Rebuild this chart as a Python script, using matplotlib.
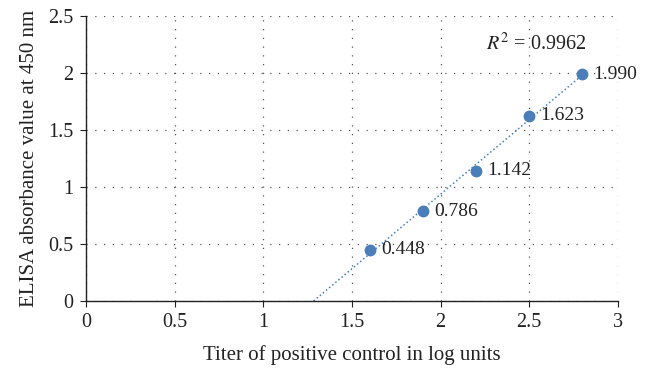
import numpy as np
import matplotlib.pyplot as plt

# Data
titer = [1.6, 1.9, 2.2, 2.5, 2.8]
absorbance = [0.448, 0.786, 1.142, 1.623, 1.990]
labels = ['0.448', '0.786', '1.142', '1.623', '1.990']
r2_text = r'$R^2$ = 0.9962'

plt.rcParams['font.family'] = ['Liberation Serif', 'DejaVu Serif']
plt.rcParams['mathtext.fontset'] = 'stix'

fig = plt.figure(figsize=(6.53, 3.72), dpi=100)
ax = fig.add_axes([0.132, 0.191, 0.814, 0.766])

farge = '#4a7ebb'
tekst = '#222222'

# Trendlinje (lineaer tilpassing), fra y=0 til siste punkt
k, m = np.polyfit(titer, absorbance, 1)
x0 = -m / k
xt = np.array([x0, titer[-1]])
ax.plot(xt, k * xt + m, ':', color=farge, lw=1.1, zorder=2)

ax.plot(titer, absorbance, 'o', color=farge, ms=7.5, zorder=3)
for xi, yi, t in zip(titer, absorbance, labels):
    ax.annotate(t, (xi, yi), xytext=(8, 0), textcoords='offset points',
                va='center', ha='left', fontsize=14, color=tekst)

ax.text(2.256, 2.25, r2_text, fontsize=14.5, color=tekst, va='center')

ax.set_xlim(0, 3)
ax.set_ylim(0, 2.5)
ax.set_xticks(np.arange(0, 3.01, 0.5))
ax.set_yticks(np.arange(0, 2.51, 0.5))
ax.set_xticklabels(['0', '0.5', '1', '1.5', '2', '2.5', '3'])
ax.set_yticklabels(['0', '0.5', '1', '1.5', '2', '2.5'])
ax.grid(True, linestyle=(0, (1, 6)), color='#555555', lw=0.9)
ax.set_axisbelow(True)
for s in ['top', 'right']:
    ax.spines[s].set_visible(False)
for s in ['left', 'bottom']:
    ax.spines[s].set_color(tekst)
    ax.spines[s].set_linewidth(1.0)
ax.tick_params(labelsize=14.5, colors=tekst, length=4, direction='out', pad=5)

ax.set_xlabel('Titer of positive control in log units', fontsize=15,
              color=tekst, labelpad=9)
ax.set_ylabel('ELISA absorbance value at 450 nm', fontsize=15,
              color=tekst, labelpad=7)

fig.savefig('out.png', dpi=100)
